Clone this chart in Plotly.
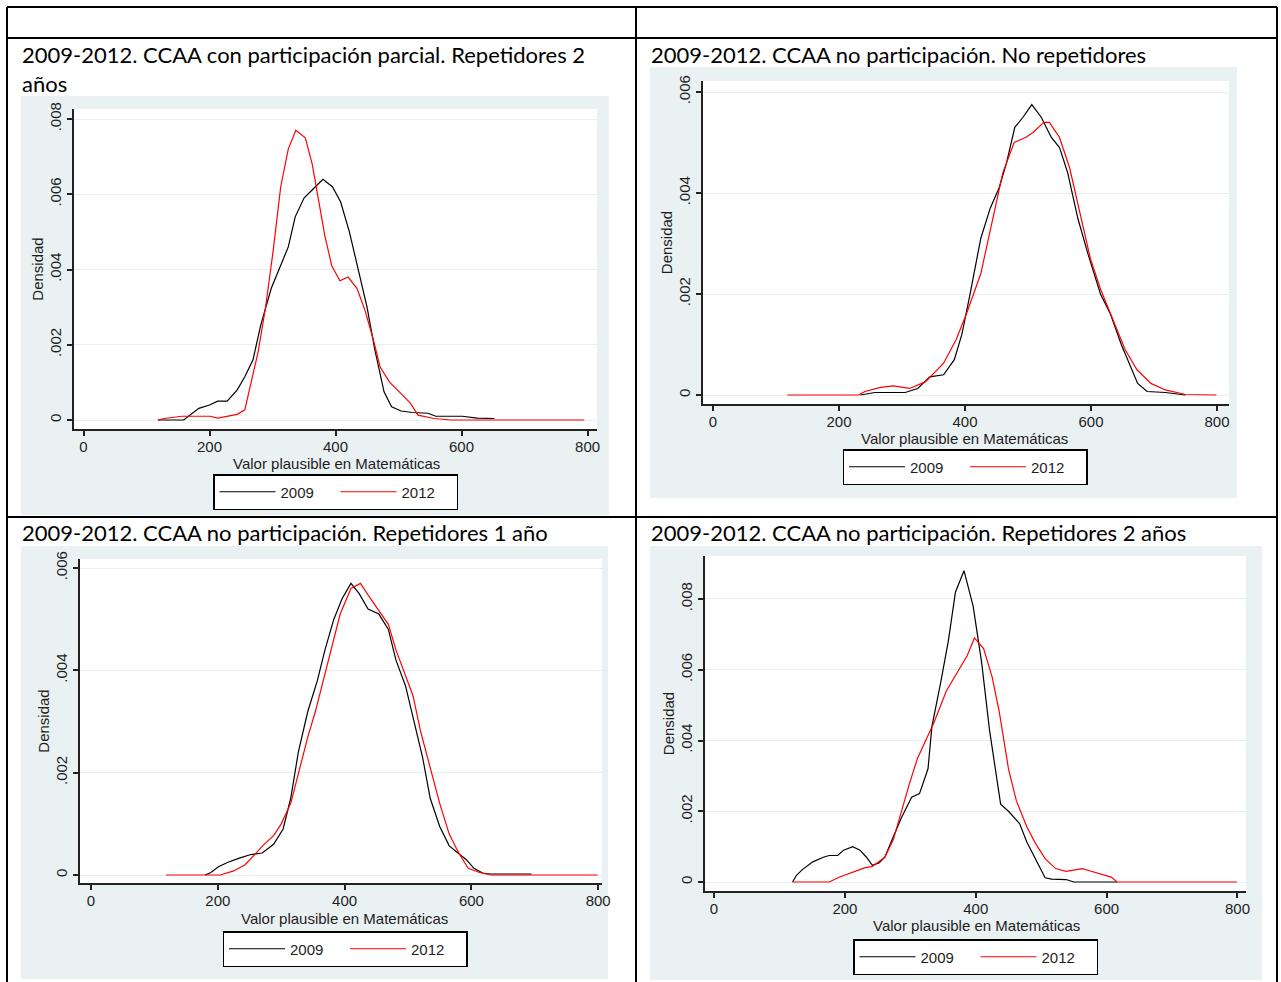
import plotly.graph_objects as go

W, H = 1281, 982

# ---------------- data ----------------
series_names = ["2009", "2012"]
x_tick_vals = [0, 200, 400, 600, 800]
x_tick_text = ["0", "200", "400", "600", "800"]
y_ticks_6 = [0, 0.002, 0.004, 0.006]
y_ticks_6_text = ["0", ".002", ".004", ".006"]
y_ticks_8 = [0, 0.002, 0.004, 0.006, 0.008]
y_ticks_8_text = ["0", ".002", ".004", ".006", ".008"]

titles = [
    "2009-2012. CCAA con participación parcial. Repetidores 2<br>años",
    "2009-2012. CCAA no participación. No repetidores",
    "2009-2012. CCAA no participación. Repetidores 1 año",
    "2009-2012. CCAA no participación. Repetidores 2 años",
]
x_title = "Valor plausible en Matemáticas"
y_title = "Densidad"

# Panel 1: CCAA con participación parcial, repetidores 2 años
p1_x_2009 = [118, 159, 183, 200, 213, 228, 244, 256, 269, 281, 298, 313, 325, 336, 350, 362,
             380, 395, 408, 422, 436, 450, 462, 477, 489, 504, 522, 547, 559, 601, 625, 652]
p1_y_2009 = [0, 0, 0.00031, 0.0004, 0.0005, 0.0005, 0.0008, 0.00115, 0.0016, 0.0025, 0.0035, 0.0041,
             0.0046, 0.0054, 0.0059, 0.0061, 0.0064, 0.0062, 0.0058, 0.0050, 0.0040, 0.0030, 0.0019,
             0.00075, 0.00035, 0.00024, 0.0002, 0.00018, 0.0001, 0.0001, 0.00005, 0.00004]
p1_x_2012 = [118, 128, 156, 201, 213, 228, 244, 256, 265, 277, 289, 301, 313, 325, 337, 352, 363,
             374, 383, 394, 407, 420, 434, 447, 459, 471, 486, 504, 519, 531, 556, 583, 795]
p1_y_2012 = [0, 0.00004, 0.0001, 0.0001, 0.00005, 0.0001, 0.00015, 0.00027, 0.0009, 0.0018, 0.003,
             0.0045, 0.0062, 0.0072, 0.0077, 0.0075, 0.0068, 0.0057, 0.0049, 0.0041, 0.0037, 0.0038,
             0.0035, 0.0029, 0.0022, 0.0014, 0.001, 0.0007, 0.00044, 0.00013, 0.00004, 0, 0]

# Panel 2: CCAA no participación, no repetidores
p2_x_2009 = [234, 257, 305, 325, 344, 366, 383, 395, 408, 425, 440, 454, 466, 479, 492, 506, 521,
             537, 550, 563, 579, 595, 615, 631, 648, 661, 674, 689, 718, 750]
p2_y_2009 = [0, 0.00005, 0.00005, 0.00013, 0.00036, 0.0004, 0.0007, 0.0012, 0.002, 0.0031, 0.0037,
             0.0041, 0.0046, 0.0053, 0.0055, 0.00575, 0.0055, 0.0051, 0.0049, 0.0044, 0.0035, 0.0028,
             0.002, 0.0016, 0.001, 0.0006, 0.00023, 0.00007, 0.00005, 0]
p2_x_2012 = [118, 231, 241, 266, 286, 312, 337, 366, 386, 402, 425, 441, 460, 478, 496, 508, 525,
             534, 550, 566, 583, 599, 615, 634, 654, 673, 695, 718, 750, 799]
p2_y_2012 = [0, 0, 0.00007, 0.00015, 0.00018, 0.00013, 0.00026, 0.00063, 0.0011, 0.0016, 0.0024,
             0.0033, 0.0044, 0.005, 0.0051, 0.0052, 0.0054, 0.0054, 0.0051, 0.0045, 0.0036, 0.0027,
             0.0021, 0.0015, 0.0009, 0.0005, 0.00023, 0.0001, 0.00001, 0]

# Panel 3: CCAA no participación, repetidores 1 año
p3_x_2009 = [180, 189, 201, 216, 234, 252, 270, 288, 303, 315, 327, 342, 357, 369, 383, 396, 410,
             423, 437, 454, 469, 481, 496, 511, 523, 535, 550, 565, 580, 592, 604, 619, 631, 695]
p3_y_2009 = [0, 0.00005, 0.00016, 0.00025, 0.00033, 0.0004, 0.00043, 0.0006, 0.0009, 0.0015, 0.0024,
             0.0032, 0.0038, 0.0044, 0.005, 0.0054, 0.0057, 0.0055, 0.0052, 0.0051, 0.0048, 0.0042,
             0.0037, 0.0029, 0.0023, 0.0015, 0.00095, 0.00057, 0.00043, 0.0003, 0.00013, 0.00003,
             0.00002, 0.00002]
p3_x_2012 = [118, 204, 225, 243, 258, 273, 288, 300, 315, 327, 342, 354, 366, 380, 393, 410, 425,
             441, 457, 469, 481, 493, 508, 520, 535, 550, 565, 580, 595, 613, 631, 799]
p3_y_2012 = [0, 0, 0.00008, 0.0002, 0.0004, 0.0006, 0.00077, 0.001, 0.0014, 0.002, 0.0027, 0.0032,
             0.0038, 0.0045, 0.0051, 0.0056, 0.0057, 0.0054, 0.0051, 0.0049, 0.0044, 0.004, 0.0035,
             0.0028, 0.0021, 0.0014, 0.0008, 0.00043, 0.00013, 0.00005, 0, 0]

# Panel 4: CCAA no participación, repetidores 2 años
p4_x_2009 = [120, 126, 135, 151, 167, 176, 189, 198, 212, 223, 233, 242, 252, 261, 270, 286, 302,
             314, 327, 333, 346, 358, 369, 382, 396, 409, 421, 431, 438, 450, 467, 478, 491, 506,
             516, 538, 550, 616]
p4_y_2009 = [0, 0.00019, 0.00035, 0.00057, 0.0007, 0.00075, 0.00075, 0.0009, 0.001, 0.0009, 0.0007,
             0.00047, 0.00054, 0.0007, 0.0011, 0.0018, 0.0024, 0.0025, 0.0032, 0.0044, 0.0056,
             0.0068, 0.0082, 0.0088, 0.0078, 0.0062, 0.0043, 0.0031, 0.0022, 0.002, 0.00165,
             0.00113, 0.00066, 0.00012, 0.00008, 0.00007, 0, 0]
p4_x_2012 = [120, 176, 192, 214, 230, 242, 261, 274, 286, 299, 311, 324, 336, 355, 371, 387, 398,
             412, 425, 436, 450, 462, 478, 491, 506, 522, 538, 550, 563, 575, 594, 607, 616, 799]
p4_y_2012 = [0, 0, 0.00014, 0.0003, 0.0004, 0.00044, 0.0007, 0.0012, 0.002, 0.0028, 0.0035, 0.004,
             0.0045, 0.0054, 0.0059, 0.0064, 0.0069, 0.0066, 0.0058, 0.0048, 0.0032, 0.0023,
             0.00156, 0.0011, 0.00066, 0.00038, 0.0003, 0.00033, 0.00038, 0.00031, 0.00022,
             0.00014, 0, 0]

panel_data = [
    (p1_x_2009, p1_y_2009, p1_x_2012, p1_y_2012),
    (p2_x_2009, p2_y_2009, p2_x_2012, p2_y_2012),
    (p3_x_2009, p3_y_2009, p3_x_2012, p3_y_2012),
    (p4_x_2009, p4_y_2009, p4_x_2012, p4_y_2012),
]

# ---------------- layout (pixel geometry of the page) ----------------
GRAY = "#eaf1f3"
GRID = "#e6eef0"
AXIS = "#222222"
TXT = "#1e1e1e"
FONT = "Liberation Sans, Arial, sans-serif"
TFONT = "Lato, Carlito, Calibri, sans-serif"


def px(x):
    return x / W


def py(y):
    return 1 - y / H


# per panel: gray box, plot box (x0,x1,y0,y1 in px), x range, y range, y ticks,
# legend top-centre, title position, x-title centre
panels = [
    dict(gray=(21, 609, 96, 515), plot=(74, 597, 109, 429), xr=[-15.1, 815], yr=[-0.000239, 0.008266],
         yt=(y_ticks_8, y_ticks_8_text), leg=(335.5, 474), title=(20, 39), xt=(336, 463)),
    dict(gray=(650, 1237, 67, 498), plot=(703, 1229, 81, 404), xr=[-15.9, 819], yr=[-0.000178, 0.006218],
         yt=(y_ticks_6, y_ticks_6_text), leg=(965, 449), title=(649, 39), xt=(965, 438)),
    dict(gray=(21, 608, 546, 979), plot=(80, 602, 559, 883), xr=[-17.4, 806], yr=[-0.000156, 0.006176],
         yt=(y_ticks_6, y_ticks_6_text), leg=(345, 931), title=(20, 517), xt=(344, 918)),
    dict(gray=(650, 1262, 546, 980), plot=(705, 1246, 556, 891), xr=[-13.8, 813], yr=[-0.000254, 0.009215],
         yt=(y_ticks_8, y_ticks_8_text), leg=(975.5, 939), title=(649, 517), xt=(976, 925)),
]

fig = go.Figure()
shapes = []
annotations = []
layout = dict(
    width=W, height=H,
    margin=dict(l=0, r=0, t=0, b=0),
    paper_bgcolor="white", plot_bgcolor="white",
    font=dict(family=FONT, size=15, color=TXT),
)

# gray graph regions first, then white plot regions (drawn below gridlines)
for p in panels:
    gx0, gx1, gy0, gy1 = p["gray"]
    shapes.append(dict(type="rect", xref="paper", yref="paper", x0=px(gx0), x1=px(gx1),
                       y0=py(gy1), y1=py(gy0), fillcolor=GRAY, line=dict(width=0), layer="below"))
for p in panels:
    x0, x1, y0, y1 = p["plot"]
    shapes.append(dict(type="rect", xref="paper", yref="paper", x0=px(x0), x1=px(x1),
                       y0=py(y1), y1=py(y0), fillcolor="white", line=dict(width=0), layer="below"))

# table borders
tbl = dict(color="black", width=2)
for yy in (7, 38, 517):
    shapes.append(dict(type="line", xref="paper", yref="paper", x0=px(7), x1=px(1277),
                       y0=py(yy), y1=py(yy), line=tbl))
for xx in (7, 636, 1277):
    shapes.append(dict(type="line", xref="paper", yref="paper", x0=px(xx), x1=px(xx),
                       y0=py(7), y1=py(990), line=tbl))

for i, (p, d) in enumerate(zip(panels, panel_data), start=1):
    sfx = "" if i == 1 else str(i)
    xa = "x" + sfx
    ya = "y" + sfx
    leg = "legend" + sfx
    x09, y09, x12, y12 = d
    fig.add_trace(go.Scatter(x=x09, y=y09, mode="lines", name=series_names[0],
                             line=dict(color="black", width=1.2), xaxis=xa, yaxis=ya, legend=leg))
    fig.add_trace(go.Scatter(x=x12, y=y12, mode="lines", name=series_names[1],
                             line=dict(color="#ff0000", width=1.2), xaxis=xa, yaxis=ya, legend=leg))

    x0, x1, y0, y1 = p["plot"]
    layout["xaxis" + sfx] = dict(
        domain=[px(x0), px(x1)], range=p["xr"], anchor=ya,
        tickvals=x_tick_vals, ticktext=x_tick_text, ticks="outside", ticklen=5,
        tickwidth=1.5, tickcolor=AXIS, showline=True, linecolor=AXIS, linewidth=1.5,
        showgrid=False, zeroline=False, automargin=False, ticklabelstandoff=-2,
        tickfont=dict(family=FONT, size=15, color=TXT),
    )
    layout["yaxis" + sfx] = dict(
        domain=[py(y1), py(y0)], range=p["yr"], anchor=xa,
        tickvals=p["yt"][0], ticktext=p["yt"][1], tickangle=-90, ticks="outside", ticklen=5,
        tickwidth=1.5, tickcolor=AXIS, showline=True, linecolor=AXIS, linewidth=1.5,
        showgrid=True, gridcolor=GRID, gridwidth=1, zeroline=False, automargin=False,
        tickfont=dict(family=FONT, size=15, color=TXT),
        title=dict(text=y_title, standoff=0, font=dict(family=FONT, size=15, color=TXT)),
    )
    lx, ly = p["leg"]
    layout[leg] = dict(
        x=px(lx), y=py(ly), xanchor="center", yanchor="top", orientation="h",
        bgcolor="white", bordercolor="black", borderwidth=1.5,
        font=dict(family=FONT, size=15, color=TXT), itemwidth=56, entrywidth=50,
        traceorder="normal", tracegroupgap=0,
    )
    tx, ty = p["title"]
    annotations.append(dict(text=titles[i - 1], xref="paper", yref="paper", x=px(tx), y=py(ty),
                            xanchor="left", yanchor="top", align="left", showarrow=False,
                            font=dict(family=TFONT, size=22, color="black")))
    xtx, xty = p["xt"]
    annotations.append(dict(text=x_title, xref="paper", yref="paper", x=px(xtx), y=py(xty),
                            xanchor="center", yanchor="middle", showarrow=False,
                            font=dict(family=FONT, size=15, color=TXT)))

layout["shapes"] = shapes
layout["annotations"] = annotations
fig.update_layout(**layout)
fig.write_html("out.html")
